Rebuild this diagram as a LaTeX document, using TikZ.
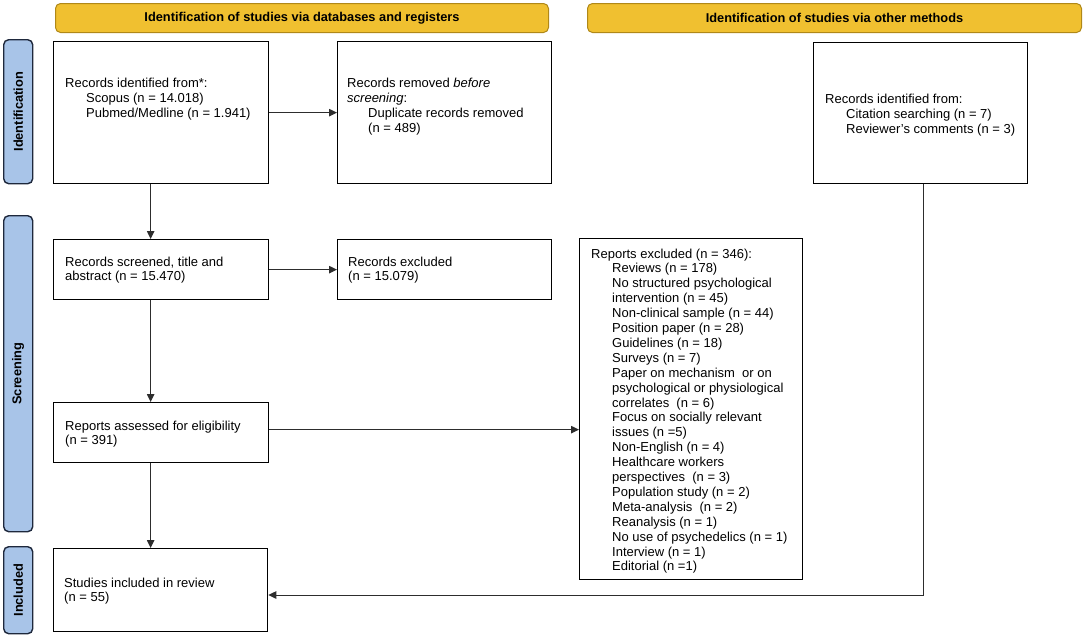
\documentclass[tikz,border=0pt]{standalone}
\usepackage{fontspec}
\setmainfont{Liberation Sans}
\usetikzlibrary{arrows.meta}
\definecolor{gold}{RGB}{240,192,48}
\definecolor{golddark}{RGB}{176,136,24}
\definecolor{sideblue}{RGB}{168,196,232}
\definecolor{sidedark}{RGB}{30,40,60}
\definecolor{linegray}{RGB}{45,45,45}
\begin{document}
\begin{tikzpicture}[x=1pt,y=-1pt,
  box/.style={draw=black, line width=1.3pt, fill=white, inner sep=0pt, anchor=north west},
  hdr/.style={draw=golddark, line width=1pt, fill=gold, rounded corners=5pt, inner sep=0pt, anchor=north west, font=\fontsize{12.8}{15}\selectfont\bfseries},
  side/.style={draw=sidedark, line width=1.4pt, fill=sideblue, rounded corners=5pt, inner sep=0pt, anchor=north west},
  sidelbl/.style={rotate=90, inner sep=0pt, font=\fontsize{12.8}{15}\selectfont\bfseries},
  txt/.style={anchor=base west, inner sep=0pt, font=\fontsize{13}{14.9}\selectfont},
  conn/.style={draw=linegray, line width=1pt, -{Triangle[length=8pt,width=7.5pt]}},
]
\useasboundingbox (0,0) rectangle (1084,635);

% headers
\node[hdr, minimum width=493pt, minimum height=29pt] (h1) at (55,3) {Identification of studies via databases and registers};
\node[hdr, minimum width=494pt, minimum height=29pt] (h2) at (587,3) {Identification of studies via other methods};

% side bars
\node[side, minimum width=29pt, minimum height=144pt] (s1) at (3,39) {};
\node[side, minimum width=29pt, minimum height=316pt] (s2) at (3,215) {};
\node[side, minimum width=29pt, minimum height=87pt] (s3) at (3,546) {};
\node[sidelbl] (l1) at (s1.center) {Identification};
\node[sidelbl] (l2) at (s2.center) {Screening};
\node[sidelbl] (l3) at (s3.center) {Included};

% boxes
\node[box, minimum width=215pt, minimum height=142pt] (b1) at (53,41) {};
\node[box, minimum width=214pt, minimum height=142pt] (b2) at (337,41) {};
\node[box, minimum width=214pt, minimum height=141pt] (b3) at (813,42) {};
\node[box, minimum width=215pt, minimum height=60pt] (b4) at (53,239) {};
\node[box, minimum width=214pt, minimum height=60pt] (b5) at (337,239) {};
\node[box, minimum width=215pt, minimum height=60pt] (b6) at (53,402) {};
\node[box, minimum width=223pt, minimum height=341pt] (b7) at (579,238) {};
\node[box, minimum width=214pt, minimum height=83pt] (b8) at (53,548) {};

% texts
\node[txt] (t1) at (65,87.5) {\begin{tabular}[t]{@{}l@{}}Records identified from*:\\\hspace*{21pt}Scopus (n = 14.018)\\\hspace*{21pt}Pubmed/Medline (n = 1.941)\end{tabular}};
\node[txt] (t2) at (347,87.5) {\begin{tabular}[t]{@{}l@{}}Records removed \textit{before}\\\textit{screening}:\\\hspace*{21pt}Duplicate records removed\\\hspace*{21pt}(n = 489)\end{tabular}};
\node[txt] (t3) at (825,103.5) {\begin{tabular}[t]{@{}l@{}}Records identified from:\\\hspace*{21pt}Citation searching (n = 7)\\\hspace*{21pt}Reviewer's comments (n = 3)\end{tabular}};
\node[txt] (t4) at (65,266) {\begin{tabular}[t]{@{}l@{}}Records screened, title and\\abstract (n = 15.470)\end{tabular}};
\node[txt] (t5) at (348,266) {\begin{tabular}[t]{@{}l@{}}Records excluded\\(n = 15.079)\end{tabular}};
\node[txt] (t6) at (65,430) {\begin{tabular}[t]{@{}l@{}}Reports assessed for eligibility\\(n = 391)\end{tabular}};
\node[txt] (t7) at (591,258) {\begin{tabular}[t]{@{}l@{\hspace{0pt}}l@{}}\multicolumn{2}{@{}l@{}}{Reports excluded (n = 346):}\\
\hspace*{21pt}&Reviews (n = 178)\\
&No structured psychological\\
&intervention (n = 45)\\
&Non-clinical sample (n = 44)\\
&Position paper (n = 28)\\
&Guidelines (n = 18)\\
&Surveys (n = 7)\\
&Paper on mechanism\ \ or on\\
&psychological or physiological\\
&correlates\ \ (n = 6)\\
&Focus on socially relevant\\
&issues (n =5)\\
&Non-English (n = 4)\\
&Healthcare workers\\
&perspectives\ \ (n = 3)\\
&Population study (n = 2)\\
&Meta-analysis\ \ (n = 2)\\
&Reanalysis (n = 1)\\
&No use of psychedelics (n = 1)\\
&Interview (n = 1)\\
&Editorial (n =1)\end{tabular}};
\node[txt] (t8) at (64,587) {\begin{tabular}[t]{@{}l@{}}Studies included in review\\(n = 55)\end{tabular}};

% connectors
\draw[conn] (b1.east) -- (b2.west);
\draw[conn] ([xshift=-10.5pt]b1.south) -- ([xshift=-10.5pt]b4.north);
\draw[conn] (b4.east) -- (b5.west);
\draw[conn] ([xshift=-10.5pt]b4.south) -- ([xshift=-10.5pt]b6.north);
\draw[conn] ([yshift=3pt]b6.east) -- ([yshift=3pt]b6.east -| b7.west);
\draw[conn] ([xshift=-10.5pt]b6.south) -- ([xshift=-10pt]b8.north);
\coordinate (c1) at (923,595);
\draw[conn] (b3.south -| c1) -- (c1) -- (c1 -| b8.east);
\end{tikzpicture}
\end{document}
